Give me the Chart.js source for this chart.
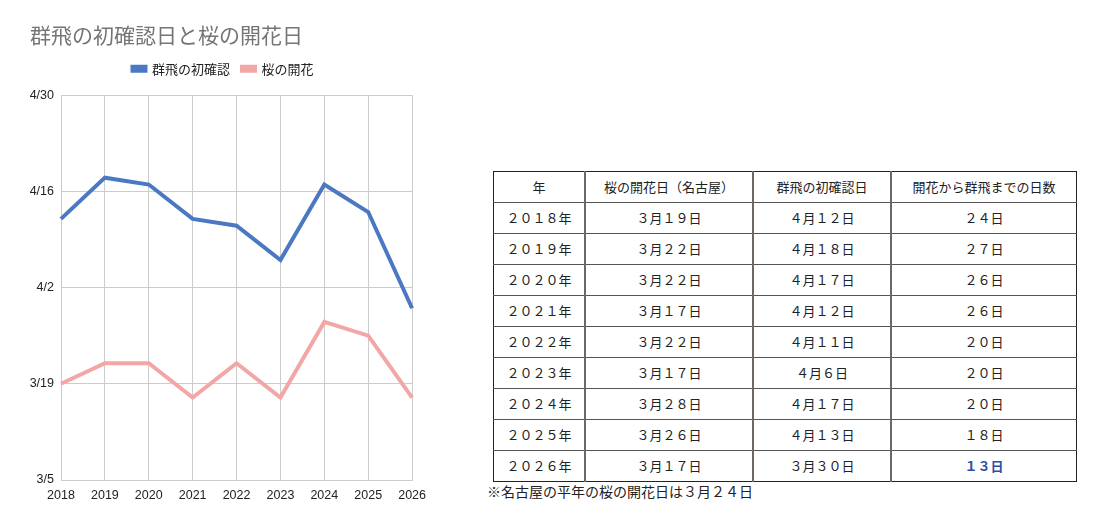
<!DOCTYPE html>
<html><head><meta charset="utf-8">
<script src="https://cdn.jsdelivr.net/npm/chart.js@4"></script>
<style>
html,body{margin:0;padding:0;background:#fff;width:1117px;height:524px;overflow:hidden;font-family:"Noto Sans CJK JP","Noto Sans",sans-serif;}
#wrap{position:absolute;left:0;top:0;width:434px;height:524px;}
#tbl{position:absolute;left:493px;top:171px;border-collapse:collapse;font-size:13px;color:#222;}
#tbl td{height:30px;padding:0;text-align:center;border-top:1px solid #555;border-bottom:1px solid #555;border-left:2px solid #6e6762;border-right:2px solid #6e6762;line-height:30px;}
#tbl tr td:first-child{border-left:1px solid #222;}
#tbl tr td:last-child{border-right:1px solid #222;}
#tbl tr:first-child td{border-top:1px solid #222;}
#tbl tr:last-child td{border-bottom:1px solid #222;}
#note{position:absolute;left:487px;top:481px;font-size:14px;color:#222;line-height:20px;}
</style></head><body>
<div id="wrap"><canvas id="c"></canvas></div>
<table id="tbl"></table>
<div id="note">※名古屋の平年の桜の開花日は３月２４日</div>
<script>
const years = ['2018','2019','2020','2021','2022','2023','2024','2025','2026'];
const swarmDates = ['4/12','4/18','4/17','4/12','4/11','4/6','4/17','4/13','3/30'];
const sakuraDates = ['3/19','3/22','3/22','3/17','3/22','3/17','3/28','3/26','3/17'];
const yTickLabels = ['3/5','3/19','4/2','4/16','4/30'];

const headers = ['年','桜の開花日（名古屋）','群飛の初確認日','開花から群飛までの日数'];
const tableYears = ['２０１８年','２０１９年','２０２０年','２０２１年','２０２２年','２０２３年','２０２４年','２０２５年','２０２６年'];
const tableSakura = ['３月１９日','３月２２日','３月２２日','３月１７日','３月２２日','３月１７日','３月２８日','３月２６日','３月１７日'];
const tableSwarm = ['４月１２日','４月１８日','４月１７日','４月１２日','４月１１日','４月６日','４月１７日','４月１３日','３月３０日'];
const tableGap = ['２４日','２７日','２６日','２６日','２０日','２０日','２０日','１８日','１３日'];

// convert "M/D" to day number counted from end of February
function toDay(s){const [m,d]=s.split('/').map(Number);return m===3?d:31+d;}
const yTickValues = yTickLabels.map(toDay);

// table
const colW=[90,166,136,184];
const tbl=document.getElementById('tbl');
function addRow(cells,last){
  const tr=document.createElement('tr');
  cells.forEach((t,i)=>{const td=document.createElement('td');td.textContent=t;td.style.width=colW[i]+'px';
    if(last&&i===3){td.style.color='#2b4fa3';td.style.fontWeight='bold';}
    tr.appendChild(td);});
  tbl.appendChild(tr);
}
addRow(headers,false);
years.forEach((y,i)=>addRow([tableYears[i],tableSakura[i],tableSwarm[i],tableGap[i]],i===years.length-1));

const legendSpace={id:'legendSpace',beforeInit(chart){const f=chart.legend.fit;chart.legend.fit=function(){f.bind(chart.legend)();this.height+=10;};}};

new Chart(document.getElementById('c'),{
  type:'line',
  data:{labels:years,datasets:[
    {label:'群飛の初確認',data:swarmDates.map(toDay),borderColor:'#4a78c2',backgroundColor:'#4a78c2',borderWidth:4,pointRadius:0,tension:0},
    {label:'桜の開花',data:sakuraDates.map(toDay),borderColor:'#f3a6a6',backgroundColor:'#f3a6a6',borderWidth:4,pointRadius:0,tension:0}
  ]},
  plugins:[legendSpace],
  options:{
    responsive:true,maintainAspectRatio:false,animation:false,
    layout:{padding:{left:30,right:18,top:22,bottom:13}},
    plugins:{
      title:{display:true,text:'群飛の初確認日と桜の開花日',align:'start',color:'#757575',
        font:{family:'"Noto Sans CJK JP"',size:21,weight:'normal'},padding:{top:0,bottom:3}},
      legend:{display:true,labels:{boxWidth:13,boxHeight:4,color:'#222',font:{family:'"Noto Sans CJK JP"',size:13},padding:12}},
      tooltip:{enabled:false}
    },
    scales:{
      x:{offset:false,grid:{color:'#cccccc',drawTicks:false},border:{color:'#cccccc'},
        ticks:{color:'#222',font:{family:'"Liberation Sans"',size:12.5},padding:8,maxRotation:0,autoSkip:false}},
      y:{min:yTickValues[0],max:yTickValues[yTickValues.length-1],
        afterBuildTicks:s=>{s.ticks=yTickValues.map(v=>({value:v}));},
        afterFit:s=>{s.width=31;},
        grid:{color:'#cccccc',drawTicks:false},border:{color:'#cccccc'},
        ticks:{color:'#222',font:{family:'"Liberation Sans"',size:12.5},padding:7,
          callback:(v)=>{const i=yTickValues.indexOf(v);return i>=0?yTickLabels[i]:'';}}}
    }
  }
});
</script>
</body></html>
